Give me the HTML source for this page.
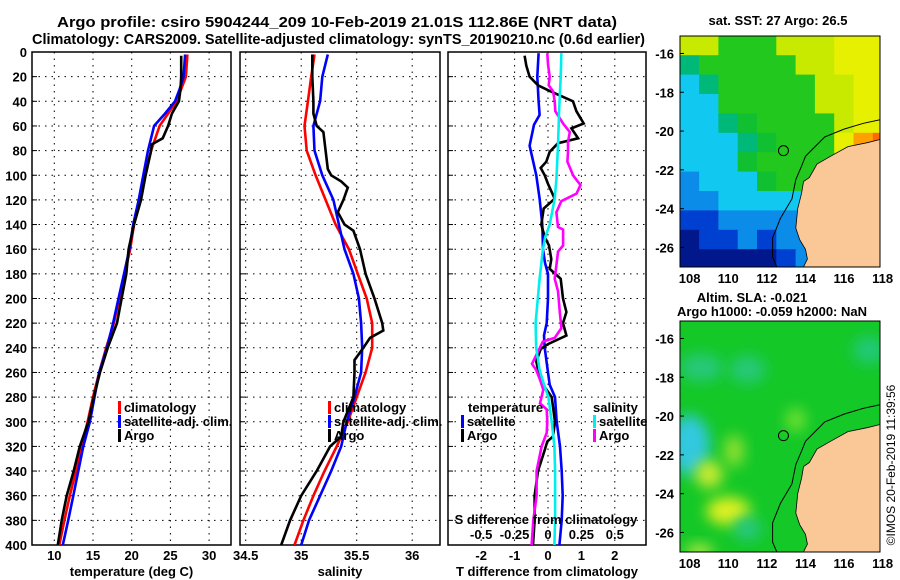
<!DOCTYPE html>
<html><head><meta charset="utf-8"><style>
html,body{margin:0;padding:0;background:#fff;}
svg{display:block;font-family:"Liberation Sans",Arial,sans-serif;font-weight:bold;}
</style></head><body>
<svg id="chart" width="900" height="580" viewBox="0 0 900 580" xmlns="http://www.w3.org/2000/svg">
<defs>
<clipPath id="cp1"><rect x="32" y="52" width="199" height="493"/></clipPath>
<clipPath id="cp2"><rect x="240" y="52" width="200" height="493"/></clipPath>
<clipPath id="cp3"><rect x="448" y="52" width="198" height="493"/></clipPath>
<clipPath id="cm1"><rect x="680" y="36" width="200" height="231"/></clipPath>
<clipPath id="cm2"><rect x="680" y="321" width="200" height="231"/></clipPath>
<filter id="blur" x="-50%" y="-50%" width="200%" height="200%"><feGaussianBlur stdDeviation="7"/></filter>
</defs>
<text x="57" y="27" font-size="15" textLength="560" lengthAdjust="spacingAndGlyphs">Argo profile: csiro 5904244_209 10-Feb-2019 21.01S 112.86E (NRT data)</text>
<text x="32" y="44" font-size="15" textLength="613" lengthAdjust="spacingAndGlyphs">Climatology: CARS2009. Satellite-adjusted climatology: synTS_20190210.nc (0.6d earlier)</text>
<g id="g1"></g>
<g id="g2"></g>
<g id="g3"></g>
<g id="m1"></g>
<g id="m2"></g>
<text x="778" y="25" font-size="13" text-anchor="middle">sat. SST: 27 Argo: 26.5</text>
<text x="752" y="302" font-size="13" text-anchor="middle">Altim. SLA: -0.021</text>
<text x="772" y="316" font-size="13" text-anchor="middle">Argo h1000: -0.059 h2000: NaN</text>
<text transform="translate(895,465) rotate(-90)" font-size="12" font-weight="normal" text-anchor="middle">©IMOS 20-Feb-2019 11:39:56</text>
</svg>
<script>
// ---- data ----
const depthTicks = [0,20,40,60,80,100,120,140,160,180,200,220,240,260,280,300,320,340,360,380,400];
const tempTicks = [10,15,20,25,30];
const salTicks = [34.5,35,35.5,36];
const dtTicks = [-2,-1,0,1,2];
const dsTicks = [-0.5,-0.25,0,0.25,0.5];
const dsTickLabels = ['-0.5','-0.25','0','0.25','0.5'];

const climTDepth = [2,20,30,40,50,60,80,100,120,140,160,180,200,220,240,260,280,300,320,340,360,380,400];
const climT = [27.2,27.0,26.4,25.8,24.7,23.6,22.5,21.7,21.1,20.3,19.8,19.1,18.4,17.7,16.7,15.8,15.0,14.3,13.5,12.8,12.0,11.3,10.65];
const satT = [26.9,26.7,26.2,25.6,24.3,22.9,22.1,21.5,20.9,20.2,19.7,19.0,18.3,17.6,16.8,15.8,15.2,14.6,13.75,13.1,12.45,11.8,11.1];
const argoTDepth = [3,20,30,40,50,60,70,75,80,100,120,140,160,180,200,220,240,260,280,300,320,340,360,380,400];
const argoT = [26.4,26.4,26.3,26.1,25.2,24.7,24.0,22.6,22.5,21.8,21.2,20.3,19.6,19.3,18.7,18.1,16.9,15.9,15.1,14.4,13.3,12.5,11.6,10.95,10.45];

const climSDepth = [2,20,40,60,80,100,120,140,160,180,200,220,240,260,280,300,320,340,360,380,400];
const climS = [35.12,35.09,35.06,35.03,35.05,35.13,35.22,35.31,35.43,35.51,35.59,35.64,35.64,35.58,35.50,35.42,35.32,35.21,35.11,35.02,34.94];
const satS = [35.24,35.19,35.17,35.11,35.12,35.19,35.29,35.34,35.39,35.47,35.52,35.54,35.55,35.54,35.48,35.41,35.36,35.27,35.17,35.07,35.0];
const argoSDepth = [2,20,40,50,60,65,80,95,100,105,110,120,130,140,145,160,180,200,220,226,232,240,250,260,280,300,312,320,330,340,360,380,400];
const argoS = [35.10,35.10,35.11,35.11,35.14,35.20,35.22,35.24,35.27,35.36,35.42,35.38,35.33,35.39,35.47,35.53,35.58,35.66,35.73,35.74,35.62,35.56,35.48,35.48,35.47,35.38,35.36,35.26,35.2,35.14,35.0,34.9,34.82];

const satDTDepth = [1,20,40,51,59,76,100,119,140,160,171,180,200,220,230,240,260,270,280,300,320,340,360,380,400];
const satDT = [-0.28,-0.32,-0.28,-0.25,-0.42,-0.55,-0.35,-0.25,-0.17,-0.15,-0.09,0,0,-0.04,-0.12,-0.1,0,0.05,0.21,0.26,0.36,0.41,0.44,0.41,0.34];
const argoDTDepth = [3,11,20,27,31,40,48,58,62,70,74,81,89,94,100,107,119,127,140,150,157,168,176,184,200,211,220,230,237,241,251,260,268,280,300,312,316,323,340,360,380,400];
const argoDT = [-0.70,-0.65,-0.55,-0.3,0,0.75,0.85,1.07,0.7,0.9,0.3,0.05,-0.05,-0.22,-0.1,0,0.2,-0.13,-0.2,-0.1,0.03,0.1,0.05,0.38,0.45,0.55,0.45,0.55,0,-0.22,-0.35,-0.28,-0.2,0.11,0.21,0.15,-0.02,-0.1,-0.3,-0.4,-0.4,-0.45];
const satDSDepth = [1,20,48,76,103,119,140,150,160,184,220,240,258,268,280,300,320,340,360,380,400];
const satDS = [0.10,0.095,0.083,0.075,0.063,0.05,0.013,-0.02,-0.038,-0.063,-0.093,-0.088,-0.063,-0.035,0.003,0.028,0.048,0.053,0.053,0.053,0.048];
const argoDSDepth = [1,10,20,27,32,40,48,58,65,73,81,89,100,108,115,121,130,142,144,157,162,173,184,194,211,224,232,235,246,253,258,265,274,285,290,300,309,320,340,360,380,400];
const argoDS = [-0.005,0,0.013,0.005,0.038,0.05,0.055,0.113,0.163,0.15,0.15,0.145,0.188,0.243,0.213,0.1,0.063,0.075,0.113,0.113,0.075,0.063,0.05,0.075,0.088,0.1,0.05,-0.038,-0.088,-0.12,-0.088,-0.063,-0.035,-0.06,-0.01,-0.005,-0.01,-0.048,-0.085,-0.085,-0.11,-0.123];

const lonTicks = [108,110,112,114,116,118];
const latTicks = [-16,-18,-20,-22,-24,-26];
const argoLon = 112.86, argoLat = -21.01;

// ---- scales ----
const NS = 'http://www.w3.org/2000/svg';
const yD = d => 52 + d * 1.2325;
const xT = t => 54.3 + (t - 10) * 7.74;
const xS = s => 245.7 + (s - 34.5) * 111;
const xDT = t => 548 + 33.4 * t;
const xDS = s => 548 + 133.6 * s;

function el(parent, tag, attrs, text) {
  const e = document.createElementNS(NS, tag);
  for (const k in attrs) e.setAttribute(k, attrs[k]);
  if (text !== undefined) e.textContent = text;
  parent.appendChild(e);
  return e;
}

function panel(g, x0, x1, ticks, xf, labels, xlabel, showDepthLabels) {
  for (const d of depthTicks) {
    const y = yD(d);
    const gl = el(g, 'line', {x1: x0, x2: x1, y1: y, y2: y, stroke: '#000', 'stroke-width': 1, 'stroke-dasharray': '1.5,5'});
    
    
    const tk = el(g, 'line', {x1: x0, x2: x0 + 5, y1: y, y2: y, stroke: '#000', 'stroke-width': 1});
    
    
    if (showDepthLabels) {
      const t = el(g, 'text', {x: 27, y: y + 5, 'font-size': 13, 'text-anchor': 'end'}, String(d));
      
      
    }
  }
  ticks.forEach((v, i) => {
    const x = xf(v);
    const gl = el(g, 'line', {x1: x, x2: x, y1: 52, y2: 545, stroke: '#000', 'stroke-width': 1, 'stroke-dasharray': '1.5,5'});
    
    
    const t = el(g, 'text', {x: x, y: 560, 'font-size': 13, 'text-anchor': 'middle'}, labels ? labels[i] : String(v));
    
    
  });
  const fr = el(g, 'rect', {x: x0, y: 52, width: x1 - x0, height: 493, fill: 'none', stroke: '#000', 'stroke-width': 1.5});
  
  
  const xl = el(g, 'text', {x: (x0 + x1) / 2, y: 576, 'font-size': 13, 'text-anchor': 'middle'}, xlabel);
  
  
}

function series(g, depths, vals, xf, color, name, clip) {
  const pts = depths.map((d, i) => xf(vals[i]).toFixed(1) + ',' + yD(d).toFixed(1)).join(' ');
  const p = el(g, 'polyline', {points: pts, fill: 'none', stroke: color, 'stroke-width': 2.6, 'stroke-linejoin': 'miter', 'clip-path': 'url(#' + clip + ')'});
  
  
}

function legend(g, x, y, color, label) {
  const b = el(g, 'rect', {x: x, y: y - 11, width: 3, height: 13, fill: color});
  
  
  const t = el(g, 'text', {x: x + 6, y: y, 'font-size': 13}, label);
  
  
}

const g1 = document.getElementById('g1');
panel(g1, 32, 231, tempTicks, xT, null, 'temperature (deg C)', true);
series(g1, climTDepth, climT, xT, '#f00', 'climatology-temperature-line', 'cp1');
series(g1, climTDepth, satT, xT, '#00f', 'satellite-temperature-line', 'cp1');
series(g1, argoTDepth, argoT, xT, '#000', 'argo-temperature-line', 'cp1');
legend(g1, 118, 412, '#f00', 'climatology');
legend(g1, 118, 426, '#00f', 'satellite-adj. clim.');
legend(g1, 118, 440, '#000', 'Argo');

const g2 = document.getElementById('g2');
panel(g2, 240, 440, salTicks, xS, null, 'salinity', false);
series(g2, climSDepth, climS, xS, '#f00', 'climatology-salinity-line', 'cp2');
series(g2, climSDepth, satS, xS, '#00f', 'satellite-salinity-line', 'cp2');
series(g2, argoSDepth, argoS, xS, '#000', 'argo-salinity-line', 'cp2');
legend(g2, 328, 412, '#f00', 'climatology');
legend(g2, 328, 426, '#00f', 'satellite-adj. clim.');
legend(g2, 328, 440, '#000', 'Argo');

const g3 = document.getElementById('g3');
panel(g3, 448, 646, dtTicks, xDT, null, 'T difference from climatology', false);
series(g3, satDTDepth, satDT, xDT, '#00f', 'satellite-temperature-difference-line', 'cp3');
series(g3, argoDTDepth, argoDT, xDT, '#000', 'argo-temperature-difference-line', 'cp3');
series(g3, argoDSDepth, argoDS, xDS, '#f0f', 'argo-salinity-difference-line', 'cp3');
series(g3, satDSDepth, satDS, xDS, '#0ee', 'satellite-salinity-difference-line', 'cp3');
const lt = el(g3, 'text', {x: 468, y: 412, 'font-size': 13}, 'temperature');


legend(g3, 461, 426, '#00f', 'satellite');
legend(g3, 461, 440, '#000', 'Argo');
const ls = el(g3, 'text', {x: 593, y: 412, 'font-size': 13}, 'salinity');


legend(g3, 593, 426, '#0ee', 'satellite');
legend(g3, 593, 440, '#f0f', 'Argo');
const sd = el(g3, 'text', {x: 546, y: 524, 'font-size': 13, 'text-anchor': 'middle'}, 'S difference from climatology');


dsTicks.forEach((v, i) => {
  const t = el(g3, 'text', {x: xDS(v), y: 539, 'font-size': 13, 'text-anchor': 'middle'}, dsTickLabels[i]);
  
  
});

// ---- maps ----
const lonMin = 107.5, lonMax = 118.3;
function mapScales(top) {
  const px = lon => 680 + (lon - lonMin) * 19.3;
  const py = lat => top + (-15.1 - lat) * 19.4;
  return [px, py];
}
const sstColors = {Y:'#c8ea00',V:'#e6f000',G:'#22c81e',H:'#10c030',T:'#00b878',C:'#10c8f0',B:'#0a8ce8',D:'#0040d0',N:'#00188c',O:'#ffa000',R:'#ff6a00'};
const sstRows = [
 'YYGGGYYYVVV',
 'TGGGGGYYVVV',
 'CTGGGGGYYVV',
 'CCGGGGGYYVV',
 'CCTHGGGGYVV',
 'CCCTHGGGVOR',
 'CCCHGGGGYOO',
 'BCCCHGGCGGG',
 'BBCCCCCCCCC',
 'DDBBBBBDBBB',
 'NDDBDBBDBBB',
 'NNNNNDBDBBB'
];
const coast = [[118.4,-20.3],[117.2,-20.6],[116.2,-20.8],[115.3,-21.3],[114.6,-21.7],[114.2,-22.4],[113.9,-22.6],[113.8,-23.2],[113.6,-24.0],[113.5,-25.0],[113.7,-25.6],[114.0,-26.1],[114.1,-26.6],[113.8,-27.2],[118.4,-27.2]];
const shelf = [[118.4,-19.3],[117,-19.6],[116,-19.9],[115,-20.3],[114.5,-20.8],[114,-21.3],[113.8,-21.8],[113.5,-22.5],[113.3,-23.5],[112.7,-24.5],[112.3,-25.5],[112.3,-26.5],[112.6,-27.2]];

function drawMap(id, top, clip, kind) {
  const g = document.getElementById(id);
  const [px, py] = mapScales(top);
  const inner = el(g, 'g', {'clip-path': 'url(#' + clip + ')'});
  if (kind === 'sst') {
    sstRows.forEach((row, r) => {
      for (let c = 0; c < row.length; c++) {
        const cell = el(inner, 'rect', {x: (px(lonMin + c) - 0.2).toFixed(1), y: (py(-15.1 - r) - 0.2).toFixed(1), width: 19.8, height: 19.9, fill: sstColors[row[c]]});
        
        
      }
    });
  } else {
    el(inner, 'rect', {x: 680, y: top, width: 200, height: 231, fill: '#14c828'});
    const blobs = [[108,-21.5,20,30,'#30c8e0'],[108.6,-17.5,22,14,'#28c878'],[111,-17.6,18,14,'#28c878'],[117.3,-16.6,16,14,'#20c878'],[109,-23,14,14,'#c8ea30'],[110,-24.9,22,14,'#e0f020'],[110.3,-21.8,10,16,'#90e030'],[113.5,-20.2,10,12,'#70e030'],[111,-25.8,14,12,'#28c880'],[108.5,-27,14,8,'#b0e840']];
    for (const b of blobs) {
      const e = el(inner, 'ellipse', {cx: px(b[0]), cy: py(b[1]), rx: b[2], ry: b[3], fill: b[4], filter: 'url(#blur)'});
      
      
    }
  }
  const land = el(inner, 'polygon', {points: coast.map(p => px(p[0]).toFixed(1) + ',' + py(p[1]).toFixed(1)).join(' '), fill: '#f9c896', stroke: '#000', 'stroke-width': 0.8});
  
  
  const sl = el(inner, 'polyline', {points: shelf.map(p => px(p[0]).toFixed(1) + ',' + py(p[1]).toFixed(1)).join(' '), fill: 'none', stroke: '#000', 'stroke-width': 1});
  
  
  const c = el(inner, 'circle', {cx: px(argoLon), cy: py(argoLat), r: 5, fill: 'none', stroke: '#000', 'stroke-width': 1});
  
  
  const fr = el(g, 'rect', {x: 680, y: top, width: 200, height: 231, fill: 'none', stroke: '#000', 'stroke-width': 1});
  
  
  for (const lat of latTicks) {
    const t = el(g, 'text', {x: 674, y: py(lat) + 5, 'font-size': 13, 'text-anchor': 'end'}, String(lat));
    
    
    const tk = el(g, 'line', {x1: 680, x2: 684, y1: py(lat), y2: py(lat), stroke: '#000'});
    
    
  }
  for (const lon of lonTicks) {
    const t = el(g, 'text', {x: px(lon), y: top + 231 + 16, 'font-size': 13, 'text-anchor': 'middle'}, String(lon));
    
    
  }
}
drawMap('m1', 36, 'cm1', 'sst');
drawMap('m2', 321, 'cm2', 'sla');
</script>
</body></html>
